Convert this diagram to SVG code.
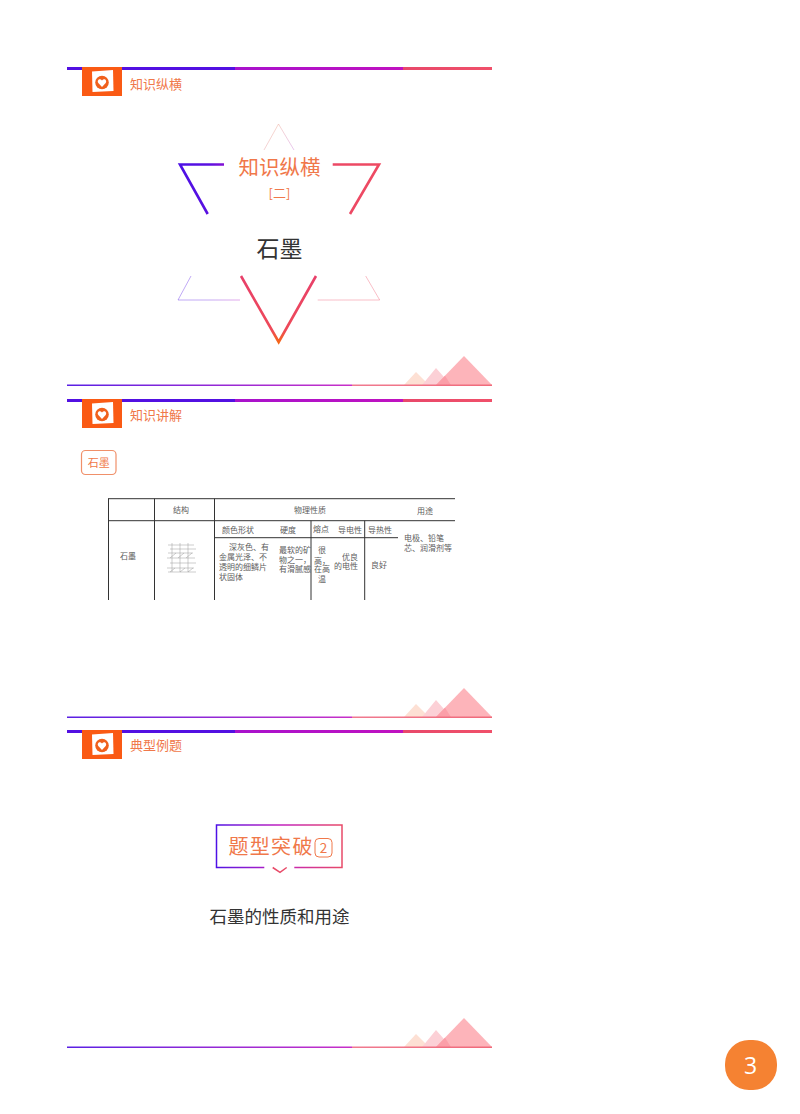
<svg xmlns="http://www.w3.org/2000/svg" width="800" height="1114" viewBox="0 0 800 1114">
<style>
text{font-family:"Noto Sans CJK SC","Liberation Sans",sans-serif}
.o{fill:#f0784a}
.d{fill:#333}
.t text{font-size:8px;fill:#333;opacity:.8}
.m{text-anchor:middle}
.tl{stroke:#333;stroke-width:1;fill:none}
.c{stroke:#999;stroke-width:.5;fill:none}
.th{fill:none;stroke-width:.8;opacity:.45}
.tk{fill:none;stroke-width:2.6}
</style>
<defs>
<linearGradient id="bar" gradientUnits="userSpaceOnUse" x1="67" y1="0" x2="492" y2="0">
<stop offset="0" stop-color="#5210e2"/><stop offset=".395" stop-color="#5210e2"/><stop offset=".396" stop-color="#a812cc"/><stop offset=".79" stop-color="#c012c0"/><stop offset=".791" stop-color="#e8486a"/><stop offset="1" stop-color="#f0506a"/>
</linearGradient>
<linearGradient id="foot" gradientUnits="userSpaceOnUse" x1="67" y1="0" x2="492" y2="0">
<stop offset="0" stop-color="#5a20e4"/><stop offset=".67" stop-color="#c830c8"/><stop offset=".671" stop-color="#f07a90"/><stop offset="1" stop-color="#f06a7a"/>
</linearGradient>
<linearGradient id="star" gradientUnits="userSpaceOnUse" x1="179" y1="0" x2="380" y2="0">
<stop offset="0" stop-color="#4d10e6"/><stop offset=".15" stop-color="#5a10e0"/><stop offset=".3" stop-color="#b010c8"/><stop offset=".4" stop-color="#e8466a"/><stop offset="1" stop-color="#ee4a62"/>
</linearGradient>
<linearGradient id="v" gradientUnits="userSpaceOnUse" x1="0" y1="276" x2="0" y2="344">
<stop offset="0" stop-color="#e8406a"/><stop offset=".8" stop-color="#ee4a58"/><stop offset="1" stop-color="#f56a10"/>
</linearGradient>
<linearGradient id="apex" gradientUnits="userSpaceOnUse" x1="264" y1="124" x2="294" y2="150">
<stop offset="0" stop-color="#f59a50"/><stop offset="1" stop-color="#c060d0"/>
</linearGradient>
<linearGradient id="box" gradientUnits="userSpaceOnUse" x1="216" y1="0" x2="342" y2="0">
<stop offset="0" stop-color="#4d10e6"/><stop offset=".1" stop-color="#6a18dc"/><stop offset=".5" stop-color="#c020c0"/><stop offset="1" stop-color="#e84a68"/>
</linearGradient>
<g id="head">
<rect x="67" y="67" width="425" height="3" fill="url(#bar)"/>
<rect x="82" y="67" width="40" height="29" fill="#fa5a14"/>
<path d="M92 71.500 113 70 113.500 91 92.500 92Z" fill="#fff"/>
<circle cx="102" cy="82.500" r="6.800" fill="#f0601c"/>
<path d="M102 87 98.300 83C97 81 98.500 79 100.200 79.300 101 79.400 101.600 79.900 102 80.600 102.400 79.900 103 79.400 103.800 79.300 105.500 79 107 81 105.700 83Z" fill="#fff"/>
</g>
<g id="foot-art">
<path d="M404 385 416 372 429 385Z" fill="#fde0d4"/>
<path d="M422 385 436 368 451 385Z" fill="#fcd0d6"/>
<path d="M436 385 464 356 492 385Z" fill="#fdb4ba"/>
<path d="M436 385 445 375.700 451 385Z" fill="#fb9ea8"/>
<rect x="67" y="384.500" width="425" height="1.500" fill="url(#foot)"/>
</g>
</defs>

<g id="slide-1-header"><use href="#head"/><text x="130" y="89" font-size="13" class="o">知识纵横</text></g>
<g id="slide-1-footer"><use href="#foot-art"/></g>
<g id="star-shapes">
<path d="M264 150 278.500 124 294 150" class="th" stroke="url(#apex)"/>
<path d="M224 164.500H180L207.700 214" class="tk" stroke="url(#star)"/>
<path d="M332.700 164.500H379L350 214" class="tk" stroke="url(#star)"/>
<path d="M241 276 278.700 342 316 276" class="tk" stroke="url(#v)"/>
<path d="M191 276 178 300H240" class="th" stroke="url(#star)"/>
<path d="M365.700 276 379.700 300H317.700" class="th" stroke="url(#star)"/>
</g>
<g id="star-title">
<text x="279.500" y="175" font-size="20.500" class="o m">知识纵横</text>
<text x="279.500" y="198" font-size="13" class="o m">[二]</text>
<text x="279.500" y="256.500" font-size="23" class="d m">石墨</text>
</g>

<g id="slide-2-header" transform="translate(0 332)"><use href="#head"/></g>
<text x="130" y="420" font-size="13" class="o">知识讲解</text>
<g id="slide-2-footer" transform="translate(0 332)"><use href="#foot-art"/></g>
<g id="badge">
<rect x="81.500" y="450.500" width="34.500" height="24" rx="4" fill="#fff" stroke="#f0906a" stroke-width="1.200"/>
<text x="98.700" y="467" font-size="11" class="o m">石墨</text>
</g>
<g id="table" class="t">
<path class="tl" d="M108 498.700H455M108 520.700H455M214.500 537.700H398M108.500 498.700V600M154.500 498.700V600M214.500 498.700V600M311 520.700V600M364.700 520.700V600"/>
<path class="c" d="M168 545H194M170 549H196M168 553H193M167 558H195M170 563H196M167 568H194M168 572H196M172 543V572M180 543V572M188 543V572M170 558 176 553M178 558 184 553M186 558 192 553M170 572 175 568M180 572 185 568M188 572 193 568"/>
<text x="181" y="513" class="m">结构</text>
<text x="310" y="513" class="m">物理性质</text>
<text x="425" y="514" class="m">用途</text>
<text x="238" y="533" class="m">颜色形状</text>
<text x="288" y="533" class="m">硬度</text>
<text x="321" y="532" class="m">熔点</text>
<text x="350" y="533" class="m">导电性</text>
<text x="380" y="533" class="m">导热性</text>
<text x="128" y="559" class="m">石墨</text>
<text x="229" y="550">深灰色、有</text>
<text x="219" y="560">金属光泽、不</text>
<text x="219" y="570">透明的细鳞片</text>
<text x="219" y="580">状固体</text>
<text x="279" y="553">最软的矿</text>
<text x="279" y="563">物之一，</text>
<text x="279" y="572">有滑腻感</text>
<text x="322" y="553" class="m">很</text>
<text x="322" y="564" class="m">高，</text>
<text x="322" y="572" class="m">在高</text>
<text x="322" y="582" class="m">温</text>
<text x="350" y="560" class="m">优良</text>
<text x="346" y="569" class="m">的电性</text>
<text x="379" y="568" class="m">良好</text>
<text x="404" y="541">电极、铅笔</text>
<text x="404" y="551">芯、润滑剂等</text>
</g>

<g id="slide-3-header" transform="translate(0 663)"><use href="#head"/></g>
<text x="130" y="750" font-size="13" class="o">典型例题</text>
<g id="slide-3-footer" transform="translate(0 662)"><use href="#foot-art"/></g>
<g id="breakthrough">
<path d="M264.300 867.500H216.500V825H342V867.500H294.300" fill="none" stroke="url(#box)" stroke-width="1.500"/>
<path d="M272.700 867.500 280 872.300 286.700 867.500" fill="none" stroke="#e84a68" stroke-width="1.500"/>
<text x="228.500" y="853.500" font-size="20" letter-spacing="1.300" class="o">题型突破</text>
<rect x="315" y="838.500" width="17" height="18.500" rx="4" fill="none" stroke="#f0784a" stroke-width="1"/>
<text x="323.500" y="853" font-size="13.500" class="o m">2</text>
</g>
<g id="subtitle"><text x="279.500" y="923" font-size="17.500" class="d m">石墨的性质和用途</text></g>
<g id="page-number">
<rect x="725" y="1040" width="52" height="50" rx="24" fill="#f58232"/>
<text x="750.500" y="1074" font-size="23" fill="#fff" class="m" style="font-family:'Open Sans',sans-serif">3</text>
</g>
</svg>
